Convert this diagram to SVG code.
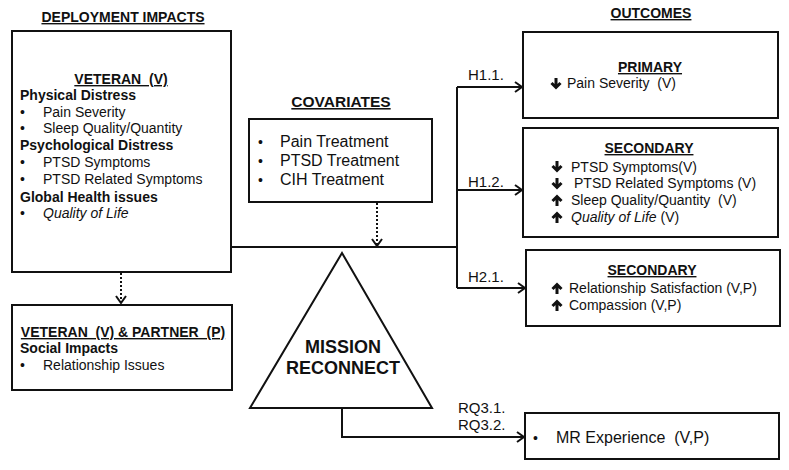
<svg xmlns="http://www.w3.org/2000/svg" xmlns:xlink="http://www.w3.org/1999/xlink" width="789" height="470" viewBox="0 0 789 470">
<style>
text{font-family:"Liberation Sans",Arial,sans-serif;fill:#111;}
.t{font-size:14px;font-weight:bold;text-decoration:underline;}
.h{font-size:14px;font-weight:bold;}
.b{font-size:14px;}
.c{font-size:16px;}
.lbl{font-size:15px;}
.box{fill:#fff;stroke:#111;stroke-width:2;}
.ln{fill:none;stroke:#111;stroke-width:2;}
.dot{fill:none;stroke:#111;stroke-width:2;stroke-dasharray:2,2;}
.ar{fill:none;stroke:#111;stroke-width:3;}
</style>
<defs>
<marker id="arr" markerWidth="10" markerHeight="12" refX="9" refY="6" orient="auto" markerUnits="userSpaceOnUse">
<path d="M2,1 L9,6 L2,11" fill="none" stroke="#111" stroke-width="2"/>
</marker>
<g id="dn"><path class="ar" d="M0,-11 L0,-1.5 M-4.5,-6 L0,-1.5 L4.5,-6"/></g>
<g id="up"><path class="ar" d="M0,0 L0,-9.5 M-4.5,-5 L0,-9.5 L4.5,-5"/></g>
</defs>

<text class="t" x="123" y="22" text-anchor="middle">DEPLOYMENT IMPACTS</text>
<text class="t" x="651" y="18" text-anchor="middle">OUTCOMES</text>

<g id="veteran">
<rect class="box" x="12" y="31" width="219" height="241"/>
<text class="t" x="121" y="84" text-anchor="middle" xml:space="preserve">VETERAN  (V)</text>
<text class="h" x="20" y="100">Physical Distress</text>
<text class="b" x="20" y="117">•</text><text class="b" x="43" y="117">Pain Severity</text>
<text class="b" x="20" y="133">•</text><text class="b" x="43" y="133">Sleep Quality/Quantity</text>
<text class="h" x="20" y="150">Psychological Distress</text>
<text class="b" x="20" y="167">•</text><text class="b" x="43" y="167">PTSD Symptoms</text>
<text class="b" x="20" y="184">•</text><text class="b" x="43" y="184">PTSD Related Symptoms</text>
<text class="h" x="20" y="202">Global Health issues</text>
<text class="b" x="20" y="218">•</text><text class="b" x="43" y="218" font-style="italic">Quality of Life</text>
</g>

<g id="partner">
<rect class="box" x="12" y="305" width="220" height="85"/>
<text class="t" x="123" y="337" text-anchor="middle" xml:space="preserve">VETERAN  (V) &amp; PARTNER  (P)</text>
<text class="h" x="20" y="353">Social Impacts</text>
<text class="b" x="20" y="370">•</text><text class="b" x="43" y="370">Relationship Issues</text>
</g>

<g id="covariates">
<text class="t" x="341" y="107" text-anchor="middle" style="font-size:15.5px">COVARIATES</text>
<rect class="box" x="249" y="119" width="183" height="83"/>
<text class="b" x="258" y="147">•</text><text class="c" x="280" y="147">Pain Treatment</text>
<text class="b" x="258" y="166">•</text><text class="c" x="280" y="166">PTSD Treatment</text>
<text class="b" x="258" y="185">•</text><text class="c" x="280" y="185">CIH Treatment</text>
</g>

<g id="mission">
<polygon class="box" points="342,253 432,408 250,408"/>
<text x="343" y="353" text-anchor="middle" style="font-size:18px;font-weight:bold">MISSION</text>
<text x="343" y="374" text-anchor="middle" style="font-size:18px;font-weight:bold">RECONNECT</text>
</g>

<g id="primary">
<rect class="box" x="523" y="32" width="255" height="86"/>
<text class="t" x="650" y="72" text-anchor="middle">PRIMARY</text>
<use href="#dn" x="556" y="89"/>
<text class="b" x="567" y="88" xml:space="preserve">Pain Severity  (V)</text>
</g>

<g id="secondary1">
<rect class="box" x="523" y="128" width="255" height="109"/>
<text class="t" x="649" y="153" text-anchor="middle">SECONDARY</text>
<use href="#dn" x="557" y="172"/>
<text class="b" x="571" y="172">PTSD Symptoms(V)</text>
<use href="#dn" x="557" y="189"/>
<text class="b" x="574" y="188">PTSD Related Symptoms (V)</text>
<use href="#up" x="557" y="206"/>
<text class="b" x="571" y="205" xml:space="preserve">Sleep Quality/Quantity  (V)</text>
<use href="#up" x="557" y="223"/>
<text class="b" x="571" y="222"><tspan font-style="italic">Quality of Life</tspan> (V)</text>
</g>

<g id="secondary2">
<rect class="box" x="526" y="250" width="254" height="76"/>
<text class="t" x="652" y="275" text-anchor="middle">SECONDARY</text>
<use href="#up" x="557" y="294"/>
<text class="b" x="569" y="293">Relationship Satisfaction (V,P)</text>
<use href="#up" x="557" y="311"/>
<text class="b" x="569" y="310">Compassion (V,P)</text>
</g>

<g id="mrexperience">
<rect class="box" x="525" y="413" width="254" height="46"/>
<text class="b" x="533" y="443">•</text>
<text class="c" x="556" y="443" xml:space="preserve">MR Experience  (V,P)</text>
</g>

<g id="connectors">
<path class="dot" d="M121,273 L121,303" marker-end="url(#arr)"/>
<path class="dot" d="M377,203 L377,246" marker-end="url(#arr)"/>
<path class="ln" d="M231,247 L457,247"/>
<path class="ln" d="M457,87 L457,288"/>
<path class="ln" d="M457,87 L522,87" marker-end="url(#arr)"/>
<path class="ln" d="M457,190 L522,190" marker-end="url(#arr)"/>
<path class="ln" d="M457,288 L525,288" marker-end="url(#arr)"/>
<path class="ln" d="M342,408 L342,437 L524,437" marker-end="url(#arr)"/>
<text class="lbl" x="468" y="80">H1.1.</text>
<text class="lbl" x="468" y="187">H1.2.</text>
<text class="lbl" x="468" y="282">H2.1.</text>
<text class="lbl" x="458" y="413">RQ3.1.</text>
<text class="lbl" x="458" y="430">RQ3.2.</text>
</g>
</svg>
